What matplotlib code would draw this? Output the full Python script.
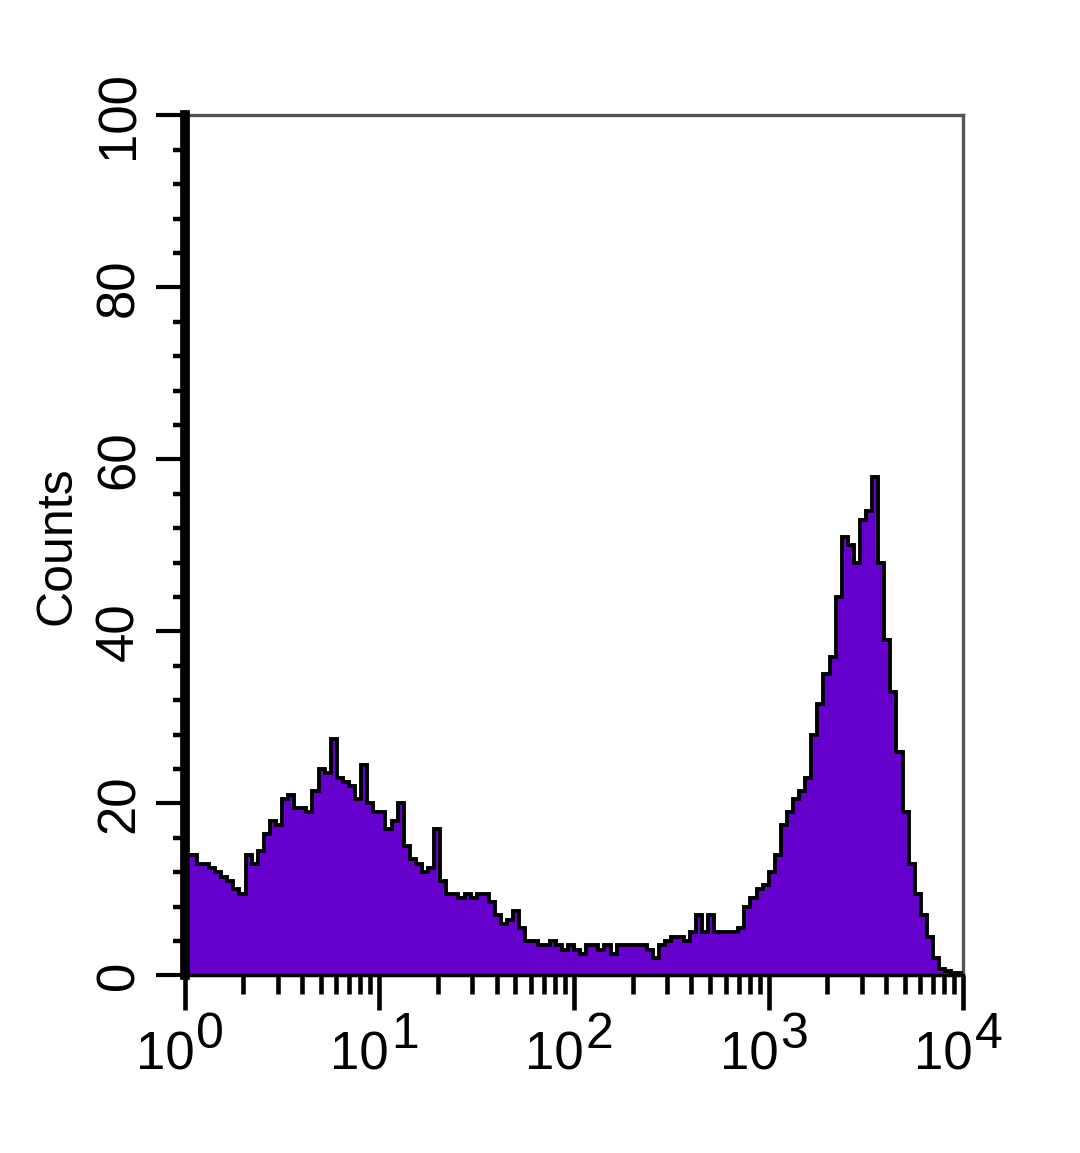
import numpy as np
import matplotlib
matplotlib.use('Agg')
import matplotlib.pyplot as plt
from matplotlib.ticker import MultipleLocator, LogLocator, NullFormatter, FixedLocator

plt.rcParams['font.family'] = ['Liberation Sans', 'DejaVu Sans']

# Histogram counts, 32 bins per decade from 10^0 to 10^4
decade0 = [14, 14, 13, 13, 12.5, 12, 11.5, 11, 10, 9.5, 14, 13, 14.5, 16.5, 18, 17.5,
           20.5, 21, 19.5, 19.5, 19, 21.5, 24, 23.5, 27.5, 23, 22.5, 22, 20.5, 24.5, 20, 19]
decade1 = [19, 17, 18, 20, 15, 13.5, 13, 12, 12.5, 17, 11, 9.5, 9.5, 9, 9.5, 9,
           9.5, 9.5, 8.5, 7, 6, 6.5, 7.5, 5.5, 4, 4, 3.5, 3.5, 4, 3.5, 3, 3.5]
decade2 = [3, 2.5, 3.5, 3.5, 3, 3.5, 2.5, 3.5, 3.5, 3.5, 3.5, 3.5, 3, 2, 3.5, 4,
           4.5, 4.5, 4, 5, 7, 5, 7, 5, 5, 5, 5, 5.5, 8, 9, 10, 10.5]
decade3 = [12, 14, 17.5, 19, 20.5, 21.5, 23, 28, 31.5, 35, 37, 44, 51, 50, 48, 53,
           54, 58, 48, 39, 33, 26, 19, 13, 9.5, 7, 4.5, 2, 0.8, 0.5, 0.3, 0.3]
counts = np.array(decade0 + decade1 + decade2 + decade3)
edges = np.logspace(0, 4, len(counts) + 1)

y_ticks = [0, 20, 40, 60, 80, 100]
x_ticks = [1, 10, 100, 1000, 10000]
x_exponents = ['0', '1', '2', '3', '4']

fig = plt.figure(figsize=(10.8, 11.53), dpi=100)
ax = fig.add_axes([0.171, 0.154, 0.721, 0.746])

ax.stairs(counts, edges, fill=True, color='#6600cc', zorder=2)
ax.stairs(counts, edges, color='black', linewidth=2.8, zorder=3)

ax.set_xscale('log')
ax.set_xlim(1, 10000)
ax.set_ylim(0, 100)

# spines
ax.spines['left'].set_linewidth(7)
ax.spines['left'].set_color('black')
ax.spines['left'].set_zorder(4)
ax.spines['bottom'].set_linewidth(2.5)
ax.spines['bottom'].set_color('black')
for s in ['top', 'right']:
    ax.spines[s].set_linewidth(2.4)
    ax.spines[s].set_color('#555555')

# y ticks
ax.yaxis.set_major_locator(FixedLocator(y_ticks))
ax.yaxis.set_minor_locator(MultipleLocator(4))
ax.tick_params(axis='y', which='major', length=21, width=3, direction='out',
               labelsize=38, pad=8)
ax.tick_params(axis='y', which='minor', length=9, width=3.2, direction='out')
for lab in ax.get_yticklabels():
    lab.set_rotation(90)
    lab.set_va('center')

# x ticks (labels drawn by hand so the exponent stays large)
ax.xaxis.set_major_locator(FixedLocator(x_ticks))
ax.xaxis.set_minor_locator(LogLocator(base=10, subs=np.arange(2, 10), numticks=100))
ax.xaxis.set_minor_formatter(NullFormatter())
ax.set_xticklabels([])
ax.tick_params(axis='x', which='major', length=25, width=3.3, direction='out')
ax.tick_params(axis='x', which='minor', length=14, width=3.3, direction='out')

for xt, ex in zip(x_ticks, x_exponents):
    ax.annotate('10', xy=(xt, 0), xycoords=('data', 'axes fraction'),
                xytext=(7, -68), textcoords='offset points',
                ha='right', va='baseline', fontsize=38, annotation_clip=False)
    ax.annotate(ex, xy=(xt, 0), xycoords=('data', 'axes fraction'),
                xytext=(8.5, -52), textcoords='offset points',
                ha='left', va='baseline', fontsize=36, annotation_clip=False)

ax.set_ylabel('Counts', fontsize=36, labelpad=10)

fig.savefig('out.png', dpi=100, facecolor='white')
